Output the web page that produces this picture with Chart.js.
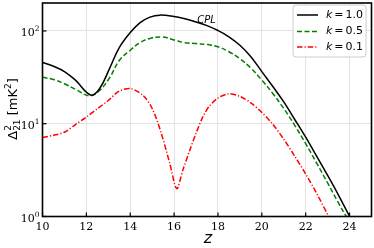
<!DOCTYPE html>
<html>
<head>
<meta charset="utf-8">
<script src="https://cdn.jsdelivr.net/npm/chart.js@4/dist/chart.umd.min.js"></script>
<style>
body { margin: 0; background: #fff; }
</style>
</head>
<body>
<canvas id="chart" width="374" height="248"></canvas>
<script>
// k = 1.0
const zK10 = [10, 10.5, 11, 11.5, 12.2, 12.6, 13.07, 13.5, 14, 14.45, 14.9, 15.35, 16, 16.45, 17, 17.5, 18, 18.5, 19, 19.5, 20, 20.5, 21, 21.5, 22, 22.5, 23, 23.5, 24];
const dK10 = [45.7, 41.6, 36.5, 29.5, 20.4, 23.8, 40, 66, 96, 123, 141, 148, 143, 136, 125, 114, 101, 86.5, 70, 52.8, 36.4, 25.2, 17.2, 11.1, 7.15, 4.47, 2.77, 1.69, 1.0];
// k = 0.5
const zK05 = [10, 10.5, 11, 11.5, 12.15, 12.6, 13.07, 13.5, 14, 14.45, 14.9, 15.45, 16, 16.45, 17, 17.5, 18, 18.5, 19, 19.5, 20, 20.5, 21, 21.5, 22, 22.5, 23, 23.5, 23.85];
const dK05 = [31.6, 30, 27, 23.5, 20, 22.8, 31.6, 48, 62, 75, 83, 86, 80, 75, 73, 71.5, 67.5, 59.7, 50.2, 39.7, 29.5, 21.2, 14.6, 9.6, 6.1, 3.76, 2.3, 1.39, 1.0];
// k = 0.1
const zK01 = [10, 10.5, 11, 11.5, 12, 12.5, 13, 13.5, 14.05, 14.6, 15.0, 15.4, 15.8, 16.12, 16.4, 16.7, 17, 17.3, 17.6, 18, 18.48, 19, 19.5, 20, 20.5, 21, 21.5, 22, 22.5, 23.05];
const dK01 = [7.1, 7.5, 8.1, 9.8, 11.8, 14.5, 17.8, 22.5, 23.8, 20, 14.6, 8.1, 3.76, 2.0, 3.17, 5.06, 7.9, 11.7, 15.4, 18.9, 21, 19.7, 16.8, 13.25, 9.85, 6.8, 4.47, 2.87, 1.77, 1.0];

const seriesK = ['1.0', '0.5', '0.1'];
const xTicks = [10, 12, 14, 16, 18, 20, 22, 24];
const yTicks = [1, 10, 100];
const yTickExp = ['0', '1', '2'];

function points(xs, ys) {
    return xs.map((x, i) => ({ x: x, y: ys[i] }));
}

const serif = '"DejaVu Serif", serif';
const sans = '"DejaVu Sans", sans-serif';

const decorations = {
    id: 'decorations',
    afterDraw(chart) {
        const c = chart.ctx;
        const area = chart.chartArea;
        const xs = chart.scales.x;
        const ys = chart.scales.y;
        c.save();

        // frame
        c.strokeStyle = '#000';
        c.lineWidth = 1.6;
        c.strokeRect(area.left, area.top, area.right - area.left, area.bottom - area.top);

        // inward ticks + x labels
        c.lineWidth = 1.2;
        c.fillStyle = '#000';
        c.font = '11px ' + serif;
        c.textAlign = 'center';
        c.textBaseline = 'alphabetic';
        xTicks.forEach(v => {
            const px = xs.getPixelForValue(v);
            c.beginPath();
            c.moveTo(px, area.bottom);
            c.lineTo(px, area.bottom - 4);
            c.stroke();
            c.fillText(String(v), px, area.bottom + 13);
        });

        yTicks.forEach((v, i) => {
            const py = ys.getPixelForValue(v);
            c.beginPath();
            c.moveTo(area.left, py);
            c.lineTo(area.left + 4, py);
            c.stroke();
            c.font = '7.5px ' + serif;
            const supW = c.measureText(yTickExp[i]).width;
            c.textAlign = 'left';
            const right = area.left - 3;
            c.fillText(yTickExp[i], right - supW, py + 0.5);
            c.font = '11px ' + serif;
            c.textAlign = 'right';
            c.fillText('10', right - supW, py + 5.5);
        });

        // x axis title
        c.font = 'italic 16px ' + sans;
        c.textAlign = 'center';
        c.fillText('z', (area.left + area.right) / 2 + 1, 243);

        // y axis title, rotated
        c.save();
        c.translate(16.5, 109);
        c.rotate(-Math.PI / 2);
        const big = '13px ' + sans;
        const small = '9px ' + sans;
        const parts = [
            { t: '\u0394', f: big, dy: 0 },
            { t: '2', f: small, dy: -6, sub: '21' },
            { t: ' [mK', f: big, dy: 0 },
            { t: '2', f: small, dy: -6 },
            { t: ']', f: big, dy: 0 }
        ];
        let total = 0;
        parts.forEach(p => {
            c.font = p.f;
            let w = c.measureText(p.t).width;
            if (p.sub) w = Math.max(w, c.measureText(p.sub).width);
            p.w = w;
            total += w;
        });
        let x = -total / 2;
        c.textAlign = 'left';
        parts.forEach(p => {
            c.font = p.f;
            c.fillText(p.t, x, p.dy);
            if (p.sub) c.fillText(p.sub, x, 3);
            x += p.w;
        });
        c.restore();

        // annotation
        c.font = 'italic 10px ' + sans;
        c.textAlign = 'center';
        c.fillText('CPL', 206.5, 23);

        // legend box
        const bx = 293, by = 5, bw = 73, bh = 52;
        c.beginPath();
        c.roundRect(bx, by, bw, bh, 3);
        c.fillStyle = 'rgba(255,255,255,0.8)';
        c.fill();
        c.strokeStyle = '#cccccc';
        c.lineWidth = 1;
        c.stroke();

        const rows = [15, 31.5, 47];
        chart.data.datasets.forEach((ds, i) => {
            const y = rows[i];
            c.strokeStyle = ds.borderColor;
            c.lineWidth = ds.borderWidth;
            c.setLineDash(ds.borderDash || []);
            c.beginPath();
            c.moveTo(297, y);
            c.lineTo(318, y);
            c.stroke();
            c.setLineDash([]);
            c.fillStyle = '#000';
            c.textAlign = 'left';
            c.textBaseline = 'middle';
            let tx = 326;
            c.font = 'italic 11px ' + sans;
            c.fillText('k', tx, y);
            tx += c.measureText('k').width + 2;
            c.font = '11px ' + sans;
            c.fillText('=', tx, y);
            tx += c.measureText('=').width + 2;
            c.fillText(seriesK[i], tx, y);
        });

        c.restore();
    }
};

const ctx = document.getElementById('chart').getContext('2d');

const config = {
    type: 'line',
    data: {
        datasets: [{
            label: 'k = ' + seriesK[0],
            data: points(zK10, dK10),
            borderColor: '#000000',
            borderWidth: 1.5,
            pointRadius: 0,
            tension: 0.4,
            fill: false
        }, {
            label: 'k = ' + seriesK[1],
            data: points(zK05, dK05),
            borderColor: '#008000',
            borderWidth: 1.5,
            borderDash: [5, 2.5],
            pointRadius: 0,
            tension: 0.4,
            fill: false
        }, {
            label: 'k = ' + seriesK[2],
            data: points(zK01, dK01),
            borderColor: '#ff0000',
            borderWidth: 1.5,
            borderDash: [5.5, 2, 1.2, 2],
            pointRadius: 0,
            tension: 0.3,
            fill: false
        }]
    },
    options: {
        responsive: false,
        animation: false,
        devicePixelRatio: 1,
        layout: {
            padding: { left: 42.5, right: 2.5, top: 3, bottom: 31.5 }
        },
        plugins: {
            legend: { display: false },
            tooltip: { enabled: false }
        },
        scales: {
            x: {
                type: 'linear',
                min: 10,
                max: 25,
                afterBuildTicks: (scale) => {
                    scale.ticks = xTicks.map(v => ({ value: v }));
                },
                afterFit: (scale) => { scale.height = 0; },
                ticks: { display: false },
                grid: { color: '#e3e3e3', lineWidth: 1, drawTicks: false },
                border: { display: false }
            },
            y: {
                type: 'logarithmic',
                min: 1,
                max: 200,
                afterBuildTicks: (scale) => {
                    scale.ticks = yTicks.map(v => ({ value: v }));
                },
                afterFit: (scale) => { scale.width = 0; },
                ticks: { display: false },
                grid: { color: '#e3e3e3', lineWidth: 1, drawTicks: false },
                border: { display: false }
            }
        }
    },
    plugins: [decorations]
};

const chart = new Chart(ctx, config);
</script>
</body>
</html>
